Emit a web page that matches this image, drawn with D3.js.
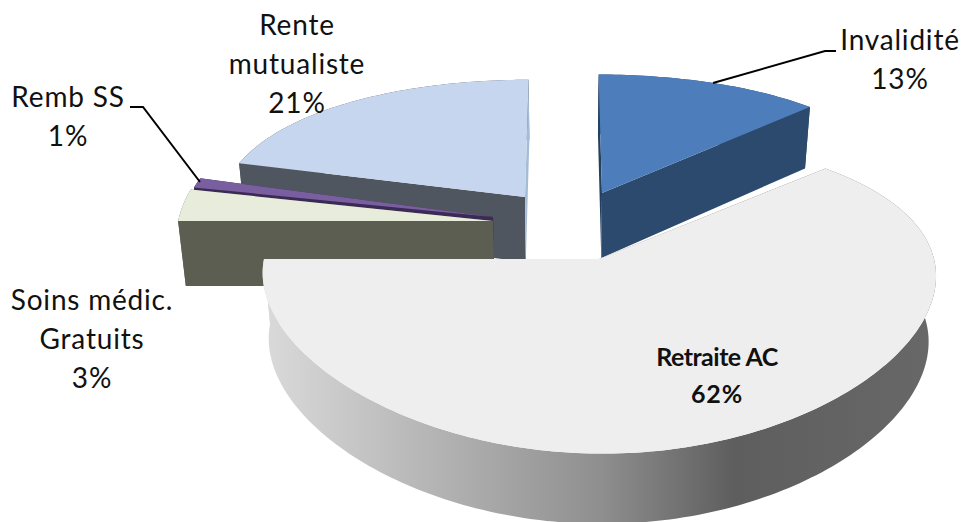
<!DOCTYPE html>
<html>
<head>
<meta charset="utf-8">
<script src="https://cdnjs.cloudflare.com/ajax/libs/d3/7.8.5/d3.min.js"></script>
<style>html,body{margin:0;padding:0;background:#fff;overflow:hidden}svg{display:block}text{font-family:Lato,sans-serif;fill:#111}</style>
</head>
<body>
<svg id="c" width="962" height="522"></svg>
<script>
const categories = ["Invalidité", "Retraite AC", "Soins médic. Gratuits", "Remb SS", "Rente mutualiste"];
const values = [13, 62, 3, 1, 21];

// look and geometry of the exploded 3D pie
const topColors = ["#4d7ebb", "#eeeeee", "#e8ecdb", "#7a5fa0", "#c6d6ee"];
const wallColors = ["#2c4a6e", "url(#wallGrad)", "#5d5e52", "#3b2a55", "#50565f"];
const backWallColors = ["#23405f", "#888888", "#5d5e52", "#3b2a55", "#a6bcd6"];
const explodeX = [37, 34, -72, -72, -40];
const explodeY = [-27, 39, 1, -3, -23];
const radiusScaleX = [0.92, 1, 0.94, 0.93, 0.906];
const radiusScaleY = [0.95, 1, 1.15, 1.08, 0.94];
const drawOrder = [4, 3, 2, 0, 1];
const labelLines = [["Invalidité", "13%"], ["Retraite AC", "62%"], ["Soins médic.", "Gratuits", "3%"], ["Remb SS", "1%"], ["Rente", "mutualiste", "21%"]];
const labelX = [900, 717, 92, 68, 297];
const labelY = [50, 366, 310, 107, 35];
const labelStep = 39;
const leaders = [
  {slice: 0, pts: [[713, 83], [825, 51], [836, 51]]},
  {slice: 3, pts: [[200, 182], [143, 107], [130, 107]]}
];

const cx = 565, cy = 220, R = 335, Ry = 152, K = 0.219, Kx = 0.1, D = 65;
const svg = d3.select("#c");
const defs = svg.append("defs");
const grad = defs.append("linearGradient").attr("id", "wallGrad")
  .attr("gradientUnits", "userSpaceOnUse").attr("x1", 265).attr("x2", 935).attr("y1", 0).attr("y2", 0);
[[0, "#dadada"], [0.5, "#8f8f8f"], [0.7, "#5e5e5e"], [1, "#686868"]].forEach(s =>
  grad.append("stop").attr("offset", s[0]).attr("stop-color", s[1]));

const arcs = d3.pie().sort(null).startAngle(0).endAngle(2 * Math.PI)(values);
const line = d3.line().x(d => d[0]).y(d => d[1]);

// projects a slice-local polar point on to the screen; bottom=true gives the underside
function project(i, a, r, bottom) {
  const X = r * Math.sin(a), Y = r * Math.cos(a);
  const s = 1 / (1 + K * Y), sx = 1 / (1 + Kx * Y);
  let x = cx + (explodeX[i] + R * radiusScaleX[i] * X) * sx;
  let y = cy + explodeY[i] - Ry * radiusScaleY[i] * Y * s;
  if (bottom) {
    x = cx + (x - cx) * 0.98;
    y += D * (1 - 0.08 * Y);
  }
  return [x, y];
}
function rim(i, a0, a1, bottom) {
  const n = Math.max(2, Math.ceil(Math.abs(a1 - a0) / 0.02));
  return d3.range(n + 1).map(k => project(i, a0 + (a1 - a0) * k / n, 1, bottom));
}
const g = svg.append("g");
drawOrder.forEach(i => {
  const d = arcs[i], a0 = d.startAngle, a1 = d.endAngle;
  const so = g.append("g");
  // outer wall
  so.append("path").attr("d", line(rim(i, a0, a1, false).concat(rim(i, a1, a0, true))) + "Z").attr("fill", wallColors[i]);
  // radial walls
  [a0, a1].forEach(a => {
    const isBackEdge = Math.sin(a) === 0 || a > 6;
    const poly = [project(i, a, 0, false), project(i, a, 1, false), project(i, a, 1, true), project(i, a, 0, true)];
    so.append("path").attr("d", line(poly) + "Z").attr("fill", isBackEdge ? backWallColors[i] : wallColors[i]);
  });
  // top
  const top = [project(i, 0, 0, false)].concat(rim(i, a0, a1, false));
  so.append("path").attr("d", line(top) + "Z").attr("fill", topColors[i]);
});

leaders.forEach(l => svg.append("path").attr("d", line(l.pts)).attr("fill", "none").attr("stroke", "#000").attr("stroke-width", 2));

labelLines.forEach((lines, i) => {
  const bold = i === 1;
  const t = svg.append("text").attr("text-anchor", "middle").attr("font-size", bold ? 25 : 28)
    .attr("font-weight", bold ? 700 : 400);
  lines.forEach((s, k) => t.append("tspan").attr("x", labelX[i]).attr("y", labelY[i] + k * (bold ? 37 : labelStep))
    .attr("letter-spacing", bold ? (k === 0 ? -0.5 : 0.8) : 0.8).text(s));
});
</script>
</body>
</html>
